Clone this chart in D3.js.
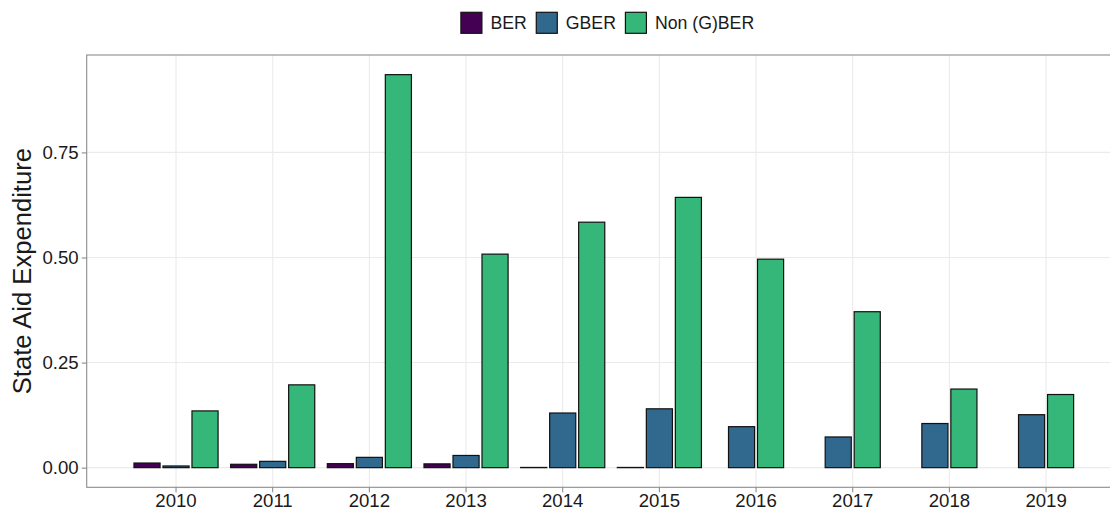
<!DOCTYPE html>
<html>
<head>
<meta charset="utf-8">
<script src="https://cdn.jsdelivr.net/npm/d3@7"></script>
<style>
  html, body { margin: 0; padding: 0; background: #ffffff; }
  svg { display: block; }
  text { font-family: "Liberation Sans", Arial, Helvetica, sans-serif; fill: #1a1a1a; }
</style>
</head>
<body>
<svg id="chart" width="1110" height="511"></svg>
<script>
// Yearly state aid expenditure by exemption regime
const years = ["2010", "2011", "2012", "2013", "2014", "2015", "2016", "2017", "2018", "2019"];
const seriesNames = ["BER", "GBER", "Non (G)BER"];
const berValues = [0.011, 0.008, 0.0095, 0.009, 0.0005, 0.0005, null, null, null, null];
const gberValues = [0.004, 0.015, 0.0245, 0.029, 0.130, 0.140, 0.0975, 0.073, 0.105, 0.126];
const nonGberValues = [0.135, 0.197, 0.935, 0.508, 0.584, 0.643, 0.496, 0.371, 0.187, 0.174];
const yTickValues = [0, 0.25, 0.5, 0.75];
const seriesColors = ["#440154", "#31688E", "#35B779"];

const svg = d3.select("#chart");

// Panel geometry (the right edge runs past the visible canvas)
const panel = { left: 86.7, top: 55, bottom: 487.3, right: 1135.4 };

const valuesBySeries = [berValues, gberValues, nonGberValues];
const maxVal = d3.max(valuesBySeries.flat().filter(v => v != null));

const x = d3.scaleBand()
  .domain(years)
  .range([panel.left, panel.right])
  .paddingInner(0)
  .paddingOuter(0.424);

const y = d3.scaleLinear()
  .domain([-0.05 * maxVal, 1.05 * maxVal])
  .range([panel.bottom, panel.top]);

const color = d3.scaleOrdinal().domain(seriesNames).range(seriesColors);

// Grid
const grid = svg.append("g").attr("class", "grid");
grid.selectAll("line.h")
  .data(yTickValues)
  .join("line")
  .attr("x1", panel.left).attr("x2", panel.right)
  .attr("y1", d => y(d)).attr("y2", d => y(d))
  .attr("stroke", "#ebebeb").attr("stroke-width", 1.1);
grid.selectAll("line.v")
  .data(years)
  .join("line")
  .attr("x1", d => x(d) + x.bandwidth() / 2).attr("x2", d => x(d) + x.bandwidth() / 2)
  .attr("y1", panel.top).attr("y2", panel.bottom)
  .attr("stroke", "#ebebeb").attr("stroke-width", 1.1);

// Dodged bars: each year keeps equal-width slots, centred on its present series
const slot = x.bandwidth() * 0.9 / seriesNames.length;
const barW = slot * 0.9;
const bars = [];
years.forEach((yr, i) => {
  const present = seriesNames
    .map((s, k) => ({ series: s, value: valuesBySeries[k][i] }))
    .filter(d => d.value != null);
  const n = present.length;
  present.forEach((d, k) => {
    const cx = x(yr) + x.bandwidth() / 2 + (k - (n - 1) / 2) * slot;
    bars.push({ year: yr, series: d.series, value: d.value, cx });
  });
});

svg.append("g").attr("class", "bars")
  .selectAll("rect")
  .data(bars)
  .join("rect")
  .attr("x", d => d.cx - barW / 2)
  .attr("width", barW)
  .attr("y", d => y(Math.max(d.value, 0)))
  .attr("height", d => Math.abs(y(0) - y(d.value)))
  .attr("fill", d => color(d.series))
  .attr("stroke", "#111")
  .attr("stroke-width", 1.2);

// Panel border
svg.append("rect")
  .attr("x", panel.left).attr("y", panel.top)
  .attr("width", panel.right - panel.left).attr("height", panel.bottom - panel.top)
  .attr("fill", "none").attr("stroke", "#8c8c8c").attr("stroke-width", 1.1);

// Axes
const yAxis = svg.append("g")
  .attr("transform", `translate(${panel.left},0)`)
  .call(d3.axisLeft(y).tickValues(yTickValues).tickFormat(d3.format(".2f")).tickSize(5).tickPadding(3));
const xAxis = svg.append("g")
  .attr("transform", `translate(0,${panel.bottom})`)
  .call(d3.axisBottom(x).tickSize(5).tickPadding(4));

[yAxis, xAxis].forEach(ax => {
  ax.select(".domain").remove();
  ax.selectAll(".tick line").attr("stroke", "#8c8c8c").attr("stroke-width", 1.1);
  ax.selectAll(".tick text")
    .attr("font-size", 18.6)
    .attr("font-family", "'Liberation Sans', Arial, sans-serif")
    .attr("fill", "#1a1a1a");
});
xAxis.selectAll(".tick text").attr("dy", null).attr("y", 19.8);

// Y axis title
svg.append("text")
  .attr("transform", `translate(31,${(panel.top + panel.bottom) / 2}) rotate(-90)`)
  .attr("text-anchor", "middle")
  .attr("font-size", 25.6)
  .text("State Aid Expenditure");

// Legend across the top
const legend = svg.append("g").attr("class", "legend");
const keySize = 21, keyGap = 8.5, itemGap = 9.5, legendFont = 17.7;
const items = legend.selectAll("g.item")
  .data(seriesNames)
  .join("g")
  .attr("class", "item");
items.append("rect")
  .attr("width", keySize).attr("height", keySize)
  .attr("fill", d => color(d))
  .attr("stroke", "#111").attr("stroke-width", 1.2);
items.append("text")
  .attr("x", keySize + keyGap)
  .attr("y", keySize / 2)
  .attr("dy", "0.35em")
  .attr("font-size", legendFont)
  .text(d => d);

const widths = [];
items.each(function () {
  const tw = d3.select(this).select("text").node().getComputedTextLength();
  widths.push(keySize + keyGap + tw);
});
const total = d3.sum(widths) + itemGap * (widths.length - 1);
const legendCenter = (panel.left + panel.right) / 2 - 3.5;
let cursor = legendCenter - total / 2;
items.attr("transform", (d, i) => {
  const t = `translate(${cursor},12.3)`;
  cursor += widths[i] + itemGap;
  return t;
});
</script>
</body>
</html>
